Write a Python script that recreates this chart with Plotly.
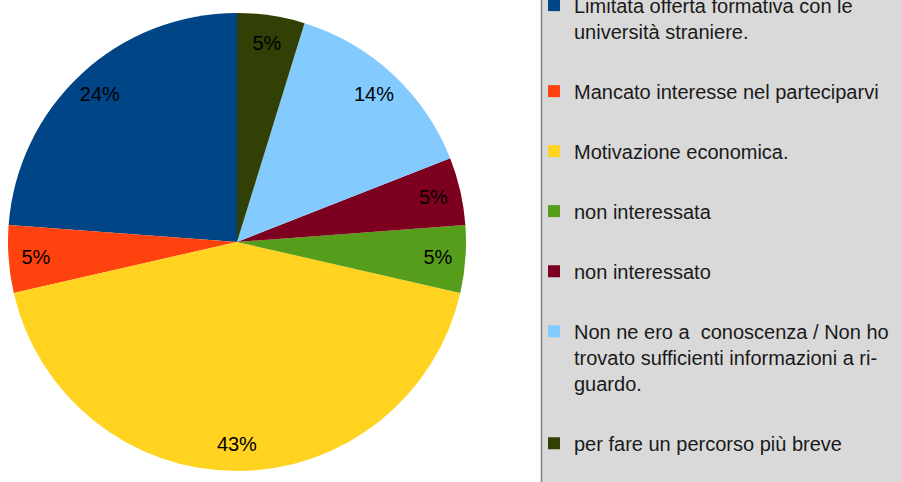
import plotly.graph_objects as go

categories = [
    "Limitata offerta formativa con le<br>università straniere.",
    "Mancato interesse nel parteciparvi",
    "Motivazione economica.",
    "non interessata",
    "non interessato",
    "Non ne ero a  conoscenza / Non ho<br>trovato sufficienti informazioni a ri-<br>guardo.",
    "per fare un percorso più breve",
]
counts = [5, 1, 9, 1, 1, 3, 1]
colors = ["#004586", "#ff420e", "#ffd320", "#579d1c", "#7e0021", "#83caff", "#314004"]

W, H = 901, 482
FONT = "Liberation Sans, Arial, sans-serif"
DOMAIN = dict(x=[8 / W, 466 / W], y=[11 / H, 469 / H])
# first slice starts at 12 o'clock and the slices run counterclockwise
ROT = -360 * counts[0] / sum(counts)

fig = go.Figure()
# filled slices
fig.add_trace(go.Pie(
    values=counts,
    labels=categories,
    marker=dict(colors=colors, line=dict(width=0)),
    sort=False,
    direction="counterclockwise",
    rotation=ROT,
    textinfo="none",
    domain=DOMAIN,
    showlegend=False,
    hoverinfo="label+percent",
))
# transparent ring carrying the percentage labels near the rim
fig.add_trace(go.Pie(
    values=counts,
    labels=categories,
    hole=0.76,
    marker=dict(colors=["rgba(0,0,0,0)"] * len(counts), line=dict(width=0)),
    sort=False,
    direction="counterclockwise",
    rotation=ROT,
    textinfo="percent",
    texttemplate="%{percent:.0%}",
    textposition="inside",
    insidetextorientation="horizontal",
    textfont=dict(family=FONT, size=20, color="#000000"),
    domain=DOMAIN,
    showlegend=False,
    hoverinfo="skip",
))

# legend entries, one per category
for name, col in zip(categories, colors):
    fig.add_trace(go.Scatter(
        x=[None], y=[None], mode="markers", name=name,
        legendgroup=name,
        marker=dict(symbol="square", size=12, color=col),
    ))

fig.add_shape(type="rect", xref="paper", yref="paper",
              x0=541.5 / W, x1=1.05, y0=-0.05, y1=1.05,
              fillcolor="#d9d9d9", line=dict(color="#808080", width=1.5),
              layer="below")

fig.update_layout(
    width=W, height=H,
    margin=dict(l=0, r=0, t=0, b=0, autoexpand=False),
    paper_bgcolor="white", plot_bgcolor="rgba(0,0,0,0)",
    xaxis=dict(visible=False), yaxis=dict(visible=False),
    legend=dict(x=534 / W, y=0.535, xanchor="left", yanchor="middle",
                bgcolor="rgba(0,0,0,0)", borderwidth=0,
                font=dict(family=FONT, size=20, color="#1a1a1a"),
                tracegroupgap=31, valign="top", traceorder="grouped",
                itemclick=False, itemdoubleclick=False),
    showlegend=True,
)

fig.write_html(
    "out.html",
    config={"displayModeBar": False},
    post_script="document.body.style.margin='0';document.body.style.overflow='hidden';",
)
